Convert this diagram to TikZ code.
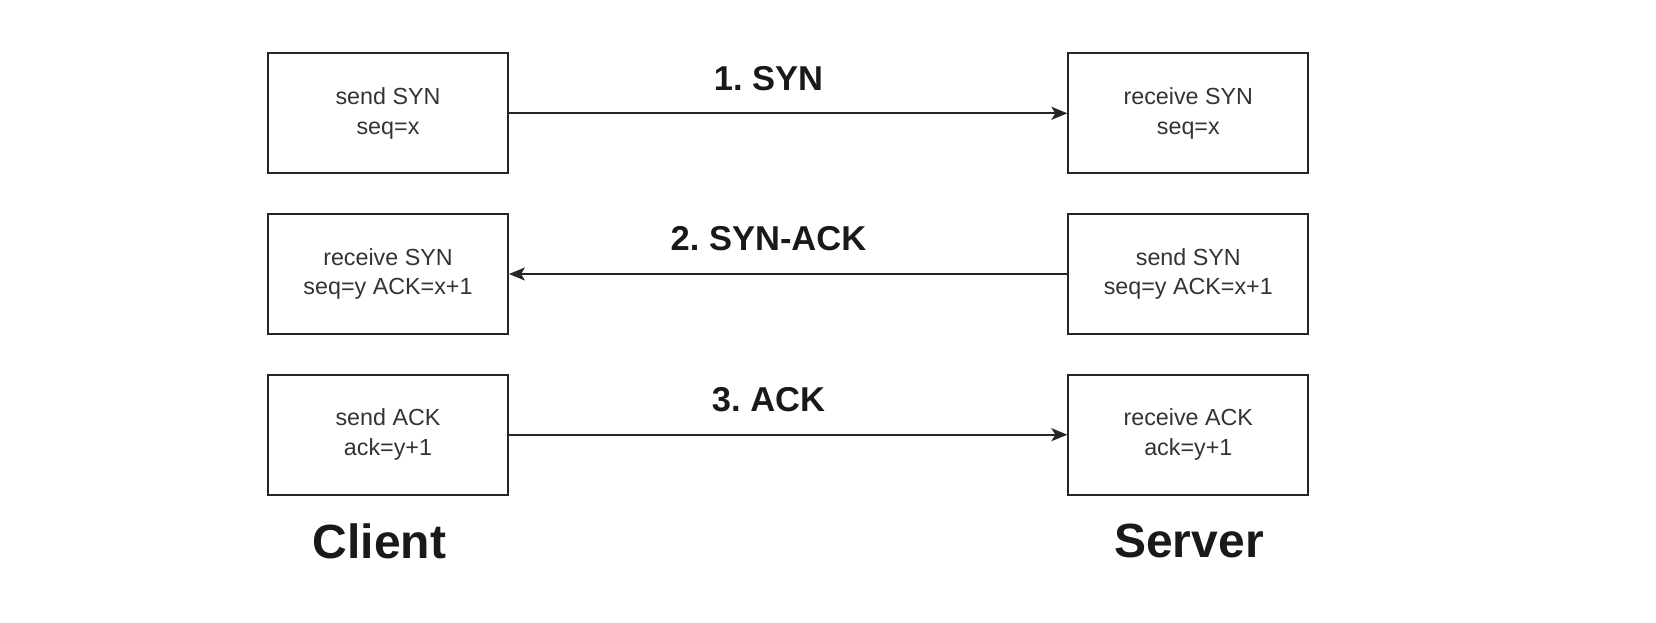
\documentclass[tikz,border=0pt]{standalone}
\usepackage{fontspec}
\setmainfont{Liberation Sans}
\usetikzlibrary{arrows.meta}
\definecolor{txt}{HTML}{333333}
\tikzset{
  x=1pt, y=-1pt,
  box/.style={draw=black!85, line width=1.9pt, minimum width=240pt, minimum height=120pt, inner sep=0pt, align=center, font=\fontsize{23.3}{29.5}\selectfont, text=txt},
  msg/.style={draw=black!85, line width=1.9pt, -{Stealth[length=16pt,width=13pt,inset=4pt]}},
  msglabel/.style={font=\fontsize{34.5}{38}\selectfont\bfseries, text=black!90},
  side/.style={font=\fontsize{48}{52}\selectfont\bfseries, text=black!90}
}
\begin{document}
\frenchspacing
\begin{tikzpicture}
\useasboundingbox (0,0) rectangle (1656,622);
\node[box] (c1) at (388,113.3) {send SYN\\seq=x};
\node[box] (s1) at (1188.3,113.3) {receive SYN\\seq=x};
\node[box] (c2) at (388,274) {receive SYN\\seq=y ACK=x+1};
\node[box] (s2) at (1188.3,274) {send SYN\\seq=y ACK=x+1};
\node[box] (c3) at (388,434.7) {send ACK\\ack=y+1};
\node[box] (s3) at (1188.3,434.7) {receive ACK\\ack=y+1};
\draw[msg] (c1) -- (s1);
\draw[msg] (s2) -- (c2);
\draw[msg] (c3) -- (s3);
\node[msglabel] (l1) at (768.5,78.3) {1. SYN};
\node[msglabel] (l2) at (768.5,239) {2. SYN-ACK};
\node[msglabel] (l3) at (768.5,399.7) {3. ACK};
\node[side] (client) at (379.5,541) {Client};
\node[side] (server) at (1189,541) {Server};
\end{tikzpicture}
\end{document}
